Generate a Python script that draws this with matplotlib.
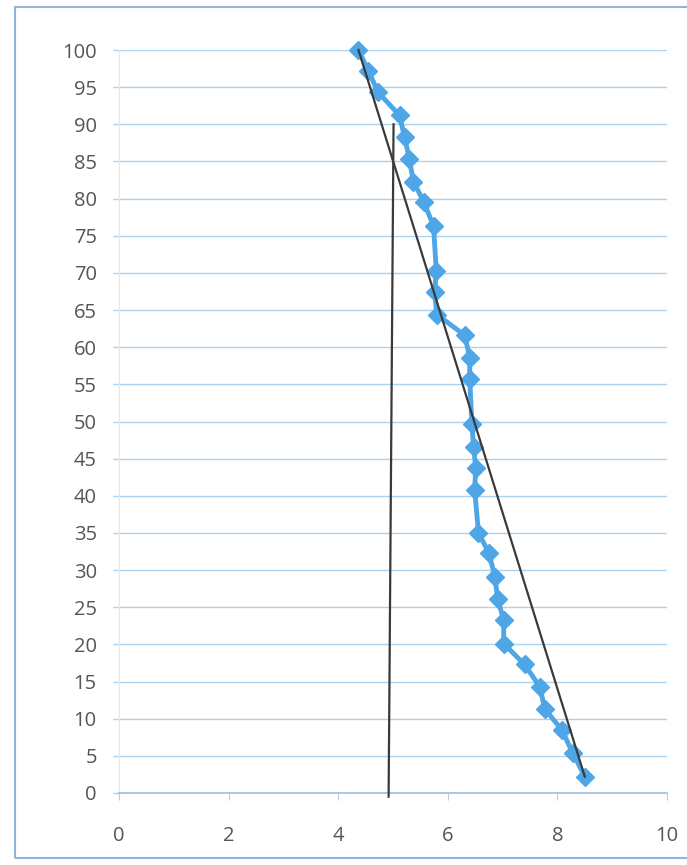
import matplotlib
matplotlib.use("Agg")
import matplotlib.pyplot as plt
from matplotlib.patches import Rectangle

# Data
x_vals = [4.37, 4.55, 4.73, 5.12, 5.21, 5.30, 5.37, 5.56, 5.74, 5.79, 5.76, 5.80,
          6.31, 6.40, 6.40, 6.44, 6.47, 6.51, 6.49, 6.56, 6.75, 6.86, 6.91, 7.02,
          7.02, 7.40, 7.68, 7.77, 8.08, 8.28, 8.50]
y_vals = [100, 97.2, 94.3, 91.2, 88.3, 85.3, 82.3, 79.6, 76.3, 70.2, 67.4, 64.4,
          61.6, 58.6, 55.7, 49.6, 46.6, 43.8, 40.8, 35.0, 32.3, 29.1, 26.1, 23.3,
          20.1, 17.3, 14.3, 11.3, 8.5, 5.4, 2.2]

trend_x = [4.37, 8.50]
trend_y = [100, 2.2]
vert_x = [5.01, 4.92]
vert_y = [90, -0.5]

x_ticks = [0, 2, 4, 6, 8, 10]
y_ticks = list(range(0, 101, 5))

W, H = 687, 865
fig = plt.figure(figsize=(W / 100, H / 100), dpi=100)
fig.patch.set_facecolor("white")

# outer chart border
fig.patches.append(Rectangle((15 / W, 7 / H), (W - 15) / W + 0.01, (858 - 7) / H,
                             transform=fig.transFigure, fill=False,
                             edgecolor="#8fb3d9", linewidth=1.5))

left, right, top, bottom = 119, 667, 50, 793
ax = fig.add_axes([left / W, 1 - bottom / H, (right - left) / W, (bottom - top) / H])
ax.set_xlim(0, 10)
ax.set_ylim(0, 100)
ax.set_xticks(x_ticks)
ax.set_yticks(y_ticks)

for yv in y_ticks[1:]:
    ax.axhline(yv, color="#a9d3f0", linewidth=1.0, zorder=0)

for s in ["top", "right"]:
    ax.spines[s].set_visible(False)
ax.spines["left"].set_color("#dbe8f5")
ax.spines["left"].set_linewidth(0.8)
ax.spines["bottom"].set_color("#9dbbe0")
ax.spines["bottom"].set_linewidth(1.2)

ax.tick_params(axis="y", length=4, width=1.0, color="#a9d3f0", pad=12,
               labelsize=14.5, labelcolor="#555555")
ax.tick_params(axis="x", length=5, direction="out", color="#b9cbe0", pad=19,
               labelsize=14.5, labelcolor="#555555")
for lab in ax.get_xticklabels() + ax.get_yticklabels():
    lab.set_fontfamily("Open Sans")

ax.plot(x_vals, y_vals, color="#4ea6e6", linewidth=3.5, marker="D",
        markersize=9, markerfacecolor="#4ea6e6", markeredgecolor="#4ea6e6",
        zorder=3, clip_on=False)
ax.plot(trend_x, trend_y, color="#3a3a3a", linewidth=1.6, zorder=4, clip_on=False)
ax.plot(vert_x, vert_y, color="#3a3a3a", linewidth=1.6, zorder=4, clip_on=False)

fig.savefig("out.png", dpi=100)
